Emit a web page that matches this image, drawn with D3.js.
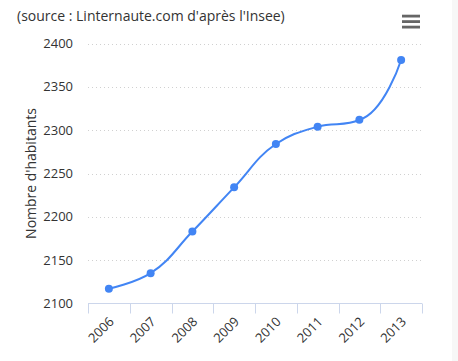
<!DOCTYPE html>
<html lang="fr">
<head>
<meta charset="UTF-8">
<title>Nombre d'habitants</title>
<style>
  body { margin: 0; padding: 0; background: #fff; }
  svg { display: block; }
  text { font-family: "Open Sans", "DejaVu Sans", sans-serif; fill: #333; }
</style>
<script src="https://d3js.org/d3.v7.min.js"></script>
</head>
<body>
<script>
const years = ["2006", "2007", "2008", "2009", "2010", "2011", "2012", "2013"];
const habitants = [2117, 2135, 2183, 2234, 2284, 2304, 2312, 2381];
const yTicks = [2100, 2150, 2200, 2250, 2300, 2350, 2400];

const width = 458, height = 361;
const plot = { left: 88, right: 422, top: 43.5, bottom: 303.5 };

const svg = d3.select("body").append("svg")
    .attr("width", width)
    .attr("height", height);

svg.append("rect").attr("width", width).attr("height", height).attr("fill", "#fff");
// bande grise à droite
svg.append("rect").attr("x", 452).attr("width", 6).attr("height", height).attr("fill", "#f7f7f7");

const x = d3.scaleBand().domain(years).range([plot.left, plot.right]);
const y = d3.scaleLinear().domain([2100, 2400]).range([plot.bottom, plot.top]);

// grille
svg.append("g").selectAll("line")
    .data(yTicks.slice(1))
    .enter().append("line")
    .attr("x1", plot.left).attr("x2", plot.right)
    .attr("y1", d => Math.round(y(d)) + 0.5).attr("y2", d => Math.round(y(d)) + 0.5)
    .attr("stroke", "#d0d0d0")
    .attr("stroke-dasharray", "1,3");

// labels axe y
svg.append("g").selectAll("text")
    .data(yTicks)
    .enter().append("text")
    .attr("x", 73)
    .attr("y", d => y(d) + 4.5)
    .attr("text-anchor", "end")
    .attr("font-size", 13)
    .text(d => d);

// axe x
const xAxis = svg.append("g");
xAxis.append("line")
    .attr("x1", plot.left).attr("x2", plot.right)
    .attr("y1", plot.bottom).attr("y2", plot.bottom)
    .attr("stroke", "#ccd6eb");
const bounds = years.map(d => x(d)).concat([plot.right]);
xAxis.selectAll(".tick")
    .data(bounds)
    .enter().append("line")
    .attr("x1", d => Math.round(d) + 0.5).attr("x2", d => Math.round(d) + 0.5)
    .attr("y1", plot.bottom).attr("y2", plot.bottom + 10)
    .attr("stroke", "#ccd6eb");
xAxis.selectAll("text")
    .data(years)
    .enter().append("text")
    .attr("transform", d => `translate(${x(d) + x.bandwidth() / 2 + 6},${plot.bottom + 19}) rotate(-45)`)
    .attr("text-anchor", "end")
    .attr("font-size", 13)
    .attr("fill", "#222")
    .text(d => d);

// titre axe y
svg.append("text")
    .attr("transform", `translate(36,${(plot.top + plot.bottom) / 2}) rotate(-90)`)
    .attr("text-anchor", "middle")
    .attr("font-size", 14)
    .text("Nombre d'habitants");

// source
svg.append("text")
    .attr("x", 17).attr("y", 21)
    .attr("font-size", 14)
    .text("(source : Linternaute.com d'après l'Insee)");

// menu
svg.append("g").selectAll("rect")
    .data([16, 21.5, 27])
    .enter().append("rect")
    .attr("x", 402).attr("y", d => d - 1.3)
    .attr("width", 18).attr("height", 2.8)
    .attr("fill", "#666");

// courbe spline (façon Highcharts)
const pts = years.map((d, i) => [x(d) + x.bandwidth() / 2, y(habitants[i])]);
const smoothing = 1.5, denom = smoothing + 1;
const ctrl = pts.map((p, i) => {
    if (i === 0 || i === pts.length - 1) return null;
    const [px, py] = p, [lx, ly] = pts[i - 1], [nx, ny] = pts[i + 1];
    let lcx = (smoothing * px + lx) / denom, lcy = (smoothing * py + ly) / denom;
    let rcx = (smoothing * px + nx) / denom, rcy = (smoothing * py + ny) / denom;
    const dl = Math.hypot(lcx - px, lcy - py), dr = Math.hypot(rcx - px, rcy - py);
    const la = Math.atan2(lcy - py, lcx - px), ra = Math.atan2(rcy - py, rcx - px);
    let ja = Math.PI / 2 + (la + ra) / 2;
    if (Math.abs(la - ja) > Math.PI / 2) ja -= Math.PI;
    lcx = px + Math.cos(ja) * dl; lcy = py + Math.sin(ja) * dl;
    rcx = px + Math.cos(Math.PI + ja) * dr; rcy = py + Math.sin(Math.PI + ja) * dr;
    if (rcy > py && rcy > ny) { rcy = Math.max(py, ny); lcy = 2 * py - rcy; }
    else if (rcy < py && rcy < ny) { rcy = Math.min(py, ny); lcy = 2 * py - rcy; }
    if (lcy > py && lcy > ly) { lcy = Math.max(py, ly); rcy = 2 * py - lcy; }
    else if (lcy < py && lcy < ly) { lcy = Math.min(py, ly); rcy = 2 * py - lcy; }
    return { lcx, lcy, rcx, rcy };
});
const path = d3.path();
pts.forEach((p, i) => {
    if (i === 0) { path.moveTo(p[0], p[1]); return; }
    const prev = pts[i - 1], pc = ctrl[i - 1], c = ctrl[i];
    path.bezierCurveTo(
        pc ? pc.rcx : prev[0], pc ? pc.rcy : prev[1],
        c ? c.lcx : p[0], c ? c.lcy : p[1],
        p[0], p[1]);
});
svg.append("path")
    .attr("d", path.toString())
    .attr("fill", "none")
    .attr("stroke", "#4285f4")
    .attr("stroke-width", 2);

svg.append("g").selectAll("circle")
    .data(pts)
    .enter().append("circle")
    .attr("cx", d => d[0]).attr("cy", d => d[1])
    .attr("r", 4)
    .attr("fill", "#4285f4");
</script>
</body>
</html>
